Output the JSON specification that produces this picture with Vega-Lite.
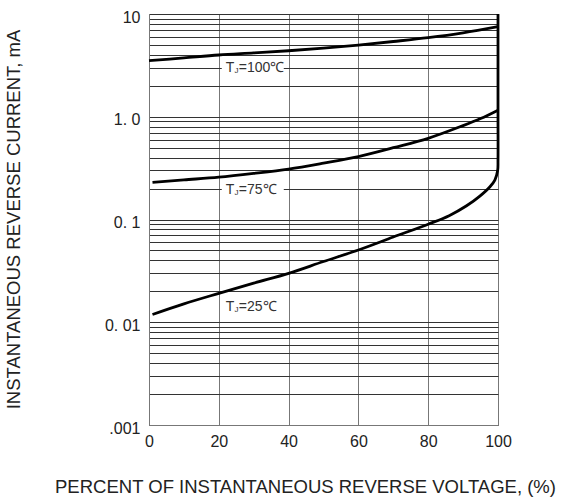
{
  "$schema": "https://vega.github.io/schema/vega-lite/v6.json",
  "width": 349,
  "height": 411,
  "autosize": {"type": "none"},
  "padding": {"left": 149, "top": 14, "right": 70, "bottom": 72},
  "background": "white",
  "config": {"view": {"stroke": null}, "font": "Liberation Sans"},
  "layer": [
    {
      "data": {
        "values": [
          {"series": "100", "ord": 1, "x": 0, "y": 3.51},
          {"series": "100", "ord": 2, "x": 10, "y": 3.74},
          {"series": "100", "ord": 3, "x": 20, "y": 3.99},
          {"series": "100", "ord": 4, "x": 30, "y": 4.18},
          {"series": "100", "ord": 5, "x": 40, "y": 4.39},
          {"series": "100", "ord": 6, "x": 50, "y": 4.66},
          {"series": "100", "ord": 7, "x": 60, "y": 4.99},
          {"series": "100", "ord": 8, "x": 70, "y": 5.4},
          {"series": "100", "ord": 9, "x": 80, "y": 5.88},
          {"series": "100", "ord": 10, "x": 90, "y": 6.55},
          {"series": "100", "ord": 11, "x": 100, "y": 7.52},
          {"series": "75", "ord": 1, "x": 1, "y": 0.23},
          {"series": "75", "ord": 2, "x": 10, "y": 0.243},
          {"series": "75", "ord": 3, "x": 20, "y": 0.258},
          {"series": "75", "ord": 4, "x": 30, "y": 0.281},
          {"series": "75", "ord": 5, "x": 40, "y": 0.31},
          {"series": "75", "ord": 6, "x": 50, "y": 0.354},
          {"series": "75", "ord": 7, "x": 60, "y": 0.41},
          {"series": "75", "ord": 8, "x": 70, "y": 0.5},
          {"series": "75", "ord": 9, "x": 80, "y": 0.617},
          {"series": "75", "ord": 10, "x": 90, "y": 0.82},
          {"series": "75", "ord": 11, "x": 95, "y": 0.96},
          {"series": "75", "ord": 12, "x": 100, "y": 1.16},
          {"series": "25", "ord": 1, "x": 1, "y": 0.0119},
          {"series": "25", "ord": 2, "x": 10, "y": 0.0151},
          {"series": "25", "ord": 3, "x": 20, "y": 0.0191},
          {"series": "25", "ord": 4, "x": 30, "y": 0.024},
          {"series": "25", "ord": 5, "x": 40, "y": 0.0299},
          {"series": "25", "ord": 6, "x": 50, "y": 0.039},
          {"series": "25", "ord": 7, "x": 60, "y": 0.0505},
          {"series": "25", "ord": 8, "x": 70, "y": 0.0675},
          {"series": "25", "ord": 9, "x": 80, "y": 0.09},
          {"series": "25", "ord": 10, "x": 86, "y": 0.109},
          {"series": "25", "ord": 11, "x": 91, "y": 0.136},
          {"series": "25", "ord": 12, "x": 94.8, "y": 0.169},
          {"series": "25", "ord": 13, "x": 97.7, "y": 0.2085},
          {"series": "25", "ord": 14, "x": 99.1, "y": 0.242},
          {"series": "25", "ord": 15, "x": 99.9, "y": 0.3},
          {"series": "25", "ord": 16, "x": 100, "y": 0.38},
          {"series": "25", "ord": 17, "x": 100, "y": 1},
          {"series": "25", "ord": 18, "x": 100, "y": 10}
        ]
      },
      "mark": {"type": "line", "color": "black", "strokeWidth": 2.8, "interpolate": "catmull-rom", "clip": false},
      "encoding": {
        "x": {
          "field": "x",
          "type": "quantitative",
          "scale": {"domain": [0, 100], "nice": false, "zero": false},
          "axis": {
            "values": [0, 20, 40, 60, 80, 100],
            "grid": true,
            "gridColor": "#777777",
            "gridWidth": 1,
            "gridOpacity": 1,
            "domainColor": "#777777",
            "ticks": false,
            "labelFont": "Liberation Sans",
            "labelFontSize": 16,
            "labelColor": "#222222",
            "labelPadding": 8,
            "labelFlush": false,
            "title": "PERCENT OF INSTANTANEOUS REVERSE VOLTAGE, (%)",
            "titleFont": "Liberation Sans",
            "titleFontSize": 18.5,
            "titleFontWeight": "normal",
            "titleColor": "#222222",
            "titleX": 156,
            "titleY": 67,
            "titleAlign": "center",
            "titleBaseline": "alphabetic"
          }
        },
        "y": {
          "field": "y",
          "type": "quantitative",
          "scale": {"type": "log", "domain": [0.001, 10], "nice": false},
          "axis": {
            "values": [0.001, 0.002, 0.003, 0.004, 0.005, 0.006, 0.007, 0.008, 0.009, 0.01, 0.02, 0.03, 0.04, 0.05, 0.06, 0.07, 0.08, 0.09, 0.1, 0.2, 0.3, 0.4, 0.5, 0.6, 0.7, 0.8, 0.9, 1, 2, 3, 4, 5, 6, 7, 8, 9, 10],
            "labelExpr": "datum.value == 10 ? '10' : datum.value == 1 ? '1. 0' : datum.value == 0.1 ? '0. 1' : datum.value == 0.01 ? '0. 01' : datum.value == 0.001 ? '.001' : ''",
            "grid": true,
            "gridColor": "#333333",
            "gridWidth": 1,
            "gridOpacity": 1,
            "domainColor": "#777777",
            "ticks": false,
            "labelFont": "Liberation Sans",
            "labelFontSize": 16,
            "labelColor": "#222222",
            "labelPadding": 9,
            "labelOffset": 3,
            "labelFlush": false,
            "labelOverlap": false,
            "title": "INSTANTANEOUS REVERSE CURRENT, mA",
            "titleFont": "Liberation Sans",
            "titleFontSize": 18.5,
            "titleFontWeight": "normal",
            "titleColor": "#222222",
            "titleX": -136,
            "titleY": 205,
            "titleAngle": -90,
            "titleAlign": "center",
            "titleBaseline": "middle"
          }
        },
        "detail": {"field": "series"},
        "order": {"field": "ord"}
      }
    },
    {
      "data": {
        "values": [
          {"x": 22, "y": 3.0, "num": "=100℃"},
          {"x": 22, "y": 0.194, "num": "=75℃"},
          {"x": 22, "y": 0.0141, "num": "=25℃"}
        ]
      },
      "layer": [
        {
          "mark": {"type": "point", "shape": "M -0.4 -0.8 L 5.8 -0.8 L 5.8 0.8 L -0.4 0.8 Z", "size": 400, "filled": true, "color": "white", "fill": "white", "strokeWidth": 0, "opacity": 1, "fillOpacity": 1},
          "encoding": {"x": {"field": "x", "type": "quantitative"}, "y": {"field": "y", "type": "quantitative"}}
        },
        {
          "mark": {"type": "text", "text": "T", "align": "left", "baseline": "middle", "fontSize": 14, "color": "#333333"},
          "encoding": {"x": {"field": "x", "type": "quantitative"}, "y": {"field": "y", "type": "quantitative"}}
        },
        {
          "mark": {"type": "text", "text": "J", "align": "left", "baseline": "middle", "fontSize": 8, "dx": 8.6, "dy": 3.5, "color": "#333333"},
          "encoding": {"x": {"field": "x", "type": "quantitative"}, "y": {"field": "y", "type": "quantitative"}}
        },
        {
          "mark": {"type": "text", "align": "left", "baseline": "middle", "fontSize": 14, "dx": 13, "color": "#333333"},
          "encoding": {"x": {"field": "x", "type": "quantitative"}, "y": {"field": "y", "type": "quantitative"}, "text": {"field": "num"}}
        }
      ]
    }
  ]
}
